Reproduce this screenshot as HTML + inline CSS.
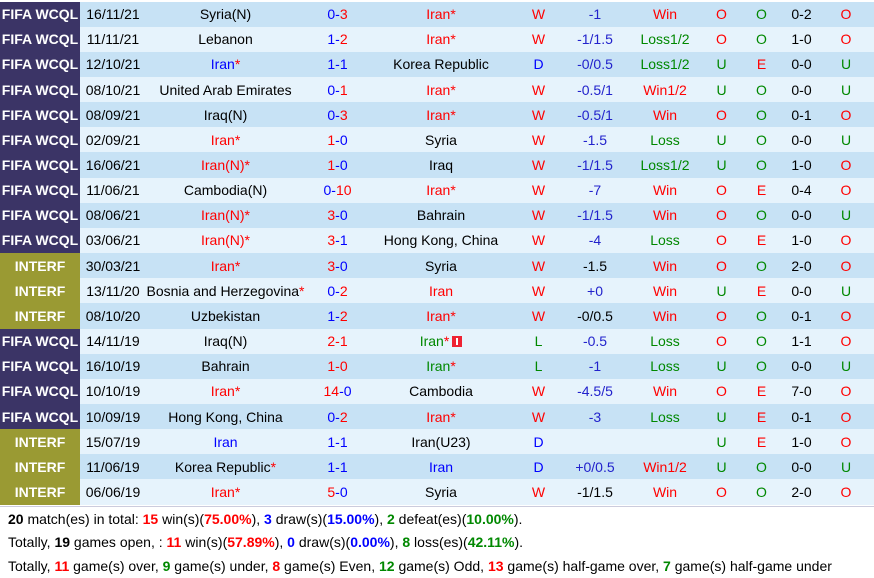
<!DOCTYPE html>
<html><head><meta charset="utf-8"><style>
body{margin:0;width:874px;height:574px;overflow:hidden;background:#fff;font-family:"Liberation Sans",Arial,sans-serif;font-size:14px;}
table{position:absolute;left:0;top:1.5px;border-collapse:collapse;table-layout:fixed;width:874px;}
tr{height:25.16px}
td{padding:0;text-align:center;white-space:nowrap;overflow:hidden;}
tr.d td{background:#c7e2f5}
tr.l td{background:#e6f3fc}
td.f{background:#3b3466!important;color:#fff;font-weight:bold}
td.i{background:#9a9a33!important;color:#fff;font-weight:bold}
.r{color:#f00}.b{color:#00f}.g{color:#080}.k{color:#000}.bl{color:#2222cc}
.s{color:#f00}
.sum{position:absolute;left:0;width:874px;height:24px;line-height:24px;padding-left:8px;box-sizing:border-box;}
.sum b.r{color:#f00}.sum b.g{color:#080}.sum b.b{color:#00f}
.flag{display:inline-block;width:10px;height:11px;background:#e23;vertical-align:-1px;margin-left:3px;position:relative}
.flag:after{content:"";position:absolute;left:4px;top:2px;width:2px;height:7px;background:#fff}
</style></head><body>
<table>
<colgroup><col style="width:80px"><col style="width:66px"><col style="width:159px"><col style="width:65px"><col style="width:142px"><col style="width:53px"><col style="width:60px"><col style="width:80px"><col style="width:33px"><col style="width:47px"><col style="width:33px"><col style="width:56px"></colgroup>
<tr class="d"><td class="f">FIFA WCQL</td><td>16/11/21</td><td>Syria(N)</td><td><span class="b">0-</span><span class="r">3</span></td><td class="r">Iran*</td><td class="r">W</td><td class="bl">-1</td><td class="r">Win</td><td class="r">O</td><td class="g">O</td><td>0-2</td><td class="r">O</td></tr>
<tr class="l"><td class="f">FIFA WCQL</td><td>11/11/21</td><td>Lebanon</td><td><span class="b">1-</span><span class="r">2</span></td><td class="r">Iran*</td><td class="r">W</td><td class="bl">-1/1.5</td><td class="g">Loss1/2</td><td class="r">O</td><td class="g">O</td><td>1-0</td><td class="r">O</td></tr>
<tr class="d"><td class="f">FIFA WCQL</td><td>12/10/21</td><td class="b">Iran<span class="s">*</span></td><td class="b">1-1</td><td>Korea Republic</td><td class="b">D</td><td class="bl">-0/0.5</td><td class="g">Loss1/2</td><td class="g">U</td><td class="r">E</td><td>0-0</td><td class="g">U</td></tr>
<tr class="l"><td class="f">FIFA WCQL</td><td>08/10/21</td><td>United Arab Emirates</td><td><span class="b">0-</span><span class="r">1</span></td><td class="r">Iran*</td><td class="r">W</td><td class="bl">-0.5/1</td><td class="r">Win1/2</td><td class="g">U</td><td class="g">O</td><td>0-0</td><td class="g">U</td></tr>
<tr class="d"><td class="f">FIFA WCQL</td><td>08/09/21</td><td>Iraq(N)</td><td><span class="b">0-</span><span class="r">3</span></td><td class="r">Iran*</td><td class="r">W</td><td class="bl">-0.5/1</td><td class="r">Win</td><td class="r">O</td><td class="g">O</td><td>0-1</td><td class="r">O</td></tr>
<tr class="l"><td class="f">FIFA WCQL</td><td>02/09/21</td><td class="r">Iran*</td><td><span class="r">1</span><span class="b">-0</span></td><td>Syria</td><td class="r">W</td><td class="bl">-1.5</td><td class="g">Loss</td><td class="g">U</td><td class="g">O</td><td>0-0</td><td class="g">U</td></tr>
<tr class="d"><td class="f">FIFA WCQL</td><td>16/06/21</td><td class="r">Iran(N)*</td><td><span class="r">1</span><span class="b">-0</span></td><td>Iraq</td><td class="r">W</td><td class="bl">-1/1.5</td><td class="g">Loss1/2</td><td class="g">U</td><td class="g">O</td><td>1-0</td><td class="r">O</td></tr>
<tr class="l"><td class="f">FIFA WCQL</td><td>11/06/21</td><td>Cambodia(N)</td><td><span class="b">0-</span><span class="r">10</span></td><td class="r">Iran*</td><td class="r">W</td><td class="bl">-7</td><td class="r">Win</td><td class="r">O</td><td class="r">E</td><td>0-4</td><td class="r">O</td></tr>
<tr class="d"><td class="f">FIFA WCQL</td><td>08/06/21</td><td class="r">Iran(N)*</td><td><span class="r">3</span><span class="b">-0</span></td><td>Bahrain</td><td class="r">W</td><td class="bl">-1/1.5</td><td class="r">Win</td><td class="r">O</td><td class="g">O</td><td>0-0</td><td class="g">U</td></tr>
<tr class="l"><td class="f">FIFA WCQL</td><td>03/06/21</td><td class="r">Iran(N)*</td><td><span class="r">3</span><span class="b">-1</span></td><td>Hong Kong, China</td><td class="r">W</td><td class="bl">-4</td><td class="g">Loss</td><td class="r">O</td><td class="r">E</td><td>1-0</td><td class="r">O</td></tr>
<tr class="d"><td class="i">INTERF</td><td>30/03/21</td><td class="r">Iran*</td><td><span class="r">3</span><span class="b">-0</span></td><td>Syria</td><td class="r">W</td><td class="k">-1.5</td><td class="r">Win</td><td class="r">O</td><td class="g">O</td><td>2-0</td><td class="r">O</td></tr>
<tr class="l"><td class="i">INTERF</td><td>13/11/20</td><td>Bosnia and Herzegovina<span class="s">*</span></td><td><span class="b">0-</span><span class="r">2</span></td><td class="r">Iran</td><td class="r">W</td><td class="bl">+0</td><td class="r">Win</td><td class="g">U</td><td class="r">E</td><td>0-0</td><td class="g">U</td></tr>
<tr class="d"><td class="i">INTERF</td><td>08/10/20</td><td>Uzbekistan</td><td><span class="b">1-</span><span class="r">2</span></td><td class="r">Iran*</td><td class="r">W</td><td class="k">-0/0.5</td><td class="r">Win</td><td class="r">O</td><td class="g">O</td><td>0-1</td><td class="r">O</td></tr>
<tr class="l"><td class="f">FIFA WCQL</td><td>14/11/19</td><td>Iraq(N)</td><td class="r">2-1</td><td class="g">Iran<span class="s">*</span><span class="flag"></span></td><td class="g">L</td><td class="bl">-0.5</td><td class="g">Loss</td><td class="r">O</td><td class="g">O</td><td>1-1</td><td class="r">O</td></tr>
<tr class="d"><td class="f">FIFA WCQL</td><td>16/10/19</td><td>Bahrain</td><td class="r">1-0</td><td class="g">Iran<span class="s">*</span></td><td class="g">L</td><td class="bl">-1</td><td class="g">Loss</td><td class="g">U</td><td class="g">O</td><td>0-0</td><td class="g">U</td></tr>
<tr class="l"><td class="f">FIFA WCQL</td><td>10/10/19</td><td class="r">Iran*</td><td><span class="r">14</span><span class="b">-0</span></td><td>Cambodia</td><td class="r">W</td><td class="bl">-4.5/5</td><td class="r">Win</td><td class="r">O</td><td class="r">E</td><td>7-0</td><td class="r">O</td></tr>
<tr class="d"><td class="f">FIFA WCQL</td><td>10/09/19</td><td>Hong Kong, China</td><td><span class="b">0-</span><span class="r">2</span></td><td class="r">Iran*</td><td class="r">W</td><td class="bl">-3</td><td class="g">Loss</td><td class="g">U</td><td class="r">E</td><td>0-1</td><td class="r">O</td></tr>
<tr class="l"><td class="i">INTERF</td><td>15/07/19</td><td class="b">Iran</td><td class="b">1-1</td><td>Iran(U23)</td><td class="b">D</td><td></td><td></td><td class="g">U</td><td class="r">E</td><td>1-0</td><td class="r">O</td></tr>
<tr class="d"><td class="i">INTERF</td><td>11/06/19</td><td>Korea Republic<span class="s">*</span></td><td class="b">1-1</td><td class="b">Iran</td><td class="b">D</td><td class="bl">+0/0.5</td><td class="r">Win1/2</td><td class="g">U</td><td class="g">O</td><td>0-0</td><td class="g">U</td></tr>
<tr class="l"><td class="i">INTERF</td><td>06/06/19</td><td class="r">Iran*</td><td><span class="r">5</span><span class="b">-0</span></td><td>Syria</td><td class="r">W</td><td class="k">-1/1.5</td><td class="r">Win</td><td class="r">O</td><td class="g">O</td><td>2-0</td><td class="r">O</td></tr>
</table>
<div class="sum" style="top:506px;border-top:1px solid #ccd"><b>20</b> match(es) in total: <b class="r">15</b> win(s)(<b class="r">75.00%</b>), <b class="b">3</b> draw(s)(<b class="b">15.00%</b>), <b class="g">2</b> defeat(es)(<b class="g">10.00%</b>).</div>
<div class="sum" style="top:530px">Totally, <b>19</b> games open, : <b class="r">11</b> win(s)(<b class="r">57.89%</b>), <b class="b">0</b> draw(s)(<b class="b">0.00%</b>), <b class="g">8</b> loss(es)(<b class="g">42.11%</b>).</div>
<div class="sum" style="top:554px">Totally, <b class="r">11</b> game(s) over, <b class="g">9</b> game(s) under, <b class="r">8</b> game(s) Even, <b class="g">12</b> game(s) Odd, <b class="r">13</b> game(s) half-game over, <b class="g">7</b> game(s) half-game under</div>
</body></html>
